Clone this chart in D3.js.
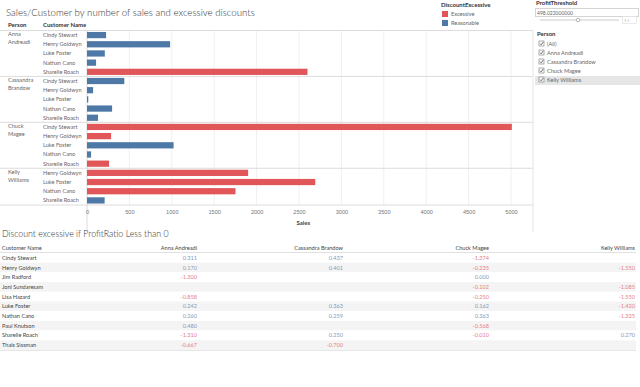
<!DOCTYPE html>
<html lang="en">
<head>
    <meta charset="UTF-8">
    <title>Sales/Customer - Discounts</title>
    <script src="https://d3js.org/d3.v7.min.js"></script>
    <style>
        body { margin: 0; background: #fff; }
        svg { font-family: Lato, "Open Sans", sans-serif; }
        .title { font-size: 9.7px; fill: #333; font-weight: 300; }
        .hdr { font-size: 6px; fill: #333; font-weight: bold; }
        .lbl { font-size: 5.6px; fill: #666; }
        .tick text { font-size: 5.6px; fill: #777; }
    </style>
</head>
<body>
<svg id="canvas" width="640" height="387"></svg>
<script>
    // bar chart data
    let persons = ["Anna Andreadi", "Cassandra Brandow", "Chuck Magee", "Kelly Williams"]
    let barPerson = ["Anna Andreadi","Anna Andreadi","Anna Andreadi","Anna Andreadi","Anna Andreadi",
        "Cassandra Brandow","Cassandra Brandow","Cassandra Brandow","Cassandra Brandow","Cassandra Brandow",
        "Chuck Magee","Chuck Magee","Chuck Magee","Chuck Magee","Chuck Magee",
        "Kelly Williams","Kelly Williams","Kelly Williams","Kelly Williams"]
    let barCustomer = ["Cindy Stewart","Henry Goldwyn","Luke Foster","Nathan Cano","Sharelle Roach",
        "Cindy Stewart","Henry Goldwyn","Luke Foster","Nathan Cano","Sharelle Roach",
        "Cindy Stewart","Henry Goldwyn","Luke Foster","Nathan Cano","Sharelle Roach",
        "Henry Goldwyn","Luke Foster","Nathan Cano","Sharelle Roach"]
    let barSales = [225, 980, 210, 107, 2600,
        440, 72, 15, 296, 130,
        5010, 284, 1021, 48, 260,
        1900, 2692, 1751, 208]
    let barStatus = ["Reasonable","Reasonable","Reasonable","Reasonable","Excessive",
        "Reasonable","Reasonable","Reasonable","Reasonable","Reasonable",
        "Excessive","Excessive","Reasonable","Reasonable","Excessive",
        "Excessive","Excessive","Excessive","Reasonable"]
    let salesTicks = [0, 500, 1000, 1500, 2000, 2500, 3000, 3500, 4000, 4500, 5000]
    let statusNames = ["Excessive", "Reasonable"]

    // table data
    let tableCustomers = ["Cindy Stewart","Henry Goldwyn","Jim Radford","Joni Sundaresam","Lisa Hazard",
        "Luke Foster","Nathan Cano","Paul Knutson","Sharelle Roach","Thais Sissman"]
    let tableValues = [
        [0.311, 0.437, -1.374, null],
        [0.170, 0.401, -0.235, -1.550],
        [-1.300, null, 0.000, null],
        [null, null, -0.102, -1.085],
        [-0.858, null, -0.250, -1.550],
        [0.242, 0.363, 0.162, -1.420],
        [0.260, 0.259, 0.363, -1.335],
        [0.480, null, -0.568, null],
        [-1.310, 0.250, -0.010, 0.270],
        [-0.667, -0.700, null, null]]

    let filterItems = ["(All)", "Anna Andreadi", "Cassandra Brandow", "Chuck Magee", "Kelly Williams"]

    let red = "#e15759", blue = "#4e79a7"
    let svg = d3.select("#canvas")

    // ---------- bar chart ----------
    svg.append("text").attr("class", "title").attr("x", 6).attr("y", 16)
        .text("Sales/Customer by number of sales and excessive discounts")

    let x = d3.scaleLinear().domain([0, 5000]).range([87, 511])
    let y = d3.scaleBand().domain(d3.range(barSales.length)).range([30.5, 205]).paddingInner(0.32).paddingOuter(0.16)
    let color = d3.scaleOrdinal().domain(statusNames).range([red, blue])
    let step = y.step()
    let yTop = 30.5, yBottom = 205

    // grid
    svg.append("g").selectAll("line").data(salesTicks.slice(1)).join("line")
        .attr("x1", d => x(d)).attr("x2", d => x(d)).attr("y1", yTop).attr("y2", yBottom)
        .attr("stroke", "#f0f0f0").attr("stroke-width", 1)

    svg.append("text").attr("class", "hdr").attr("x", 8).attr("y", 27).text("Person")
    svg.append("text").attr("class", "hdr").attr("x", 43).attr("y", 27).text("Customer Name")

    // group separators
    let firstIdx = persons.map(p => barPerson.indexOf(p))
    svg.append("g").selectAll("line").data(firstIdx).join("line")
        .attr("x1", 0).attr("x2", 533)
        .attr("y1", i => i === 0 ? yTop : y(i) - step * 0.16)
        .attr("y2", i => i === 0 ? yTop : y(i) - step * 0.16)
        .attr("stroke", "#dcdcdc")
    svg.append("line").attr("x1", 0).attr("x2", 533).attr("y1", yBottom).attr("y2", yBottom).attr("stroke", "#dcdcdc")
    svg.append("line").attr("x1", 533).attr("x2", 533).attr("y1", yTop).attr("y2", 232).attr("stroke", "#e4e4e4")
    svg.append("line").attr("x1", x(0)).attr("x2", x(0)).attr("y1", yTop).attr("y2", 232).attr("stroke", "#dcdcdc")

    // person labels
    persons.forEach((p, k) => {
        let t = svg.append("text").attr("class", "lbl").attr("x", 8).attr("y", y(firstIdx[k]) + 4.5)
        p.split(" ").forEach((w, j) => t.append("tspan").attr("x", 8).attr("dy", j ? 7.5 : 0).text(w))
    })

    // customer labels
    svg.append("g").selectAll("text").data(barCustomer).join("text").attr("class", "lbl")
        .attr("x", 43).attr("y", (d, i) => y(i) + y.bandwidth() / 2 + 2).text(d => d)

    // bars
    svg.append("g").selectAll("rect").data(barSales).join("rect")
        .attr("x", x(0)).attr("y", (d, i) => y(i))
        .attr("width", d => x(d) - x(0)).attr("height", y.bandwidth())
        .attr("fill", (d, i) => color(barStatus[i]))

    // axis
    svg.append("g").attr("transform", "translate(0,206)")
        .call(d3.axisBottom(x).tickValues(salesTicks).tickFormat(d3.format("d")).tickSize(0).tickPadding(4))
        .call(g => g.select(".domain").remove())
    svg.append("text").attr("class", "hdr").attr("x", x(2550)).attr("y", 225).attr("text-anchor", "middle")
        .style("fill", "#444").text("Sales")

    // legend
    svg.append("text").attr("class", "hdr").attr("x", 441).attr("y", 7).text("DiscountExcessive")
    let lg = svg.append("g").selectAll("g").data(statusNames).join("g")
        .attr("transform", (d, i) => `translate(442,${11 + i * 9})`)
    lg.append("rect").attr("width", 6).attr("height", 6).attr("fill", d => color(d))
    lg.append("text").attr("class", "lbl").attr("x", 9).attr("y", 5).text(d => d)

    // ---------- filter panel ----------
    svg.append("text").attr("class", "hdr").attr("x", 536).attr("y", 5).text("ProfitThreshold")
    svg.append("rect").attr("x", 535.5).attr("y", 8.5).attr("width", 103).attr("height", 8)
        .attr("fill", "#fff").attr("stroke", "#d4d4d4")
    svg.append("text").attr("class", "lbl").style("font-size", "5px").attr("x", 537).attr("y", 14.5).text("498.022000000")
    svg.append("line").attr("x1", 540).attr("x2", 619).attr("y1", 20).attr("y2", 20).attr("stroke", "#ccc")
    svg.append("circle").attr("cx", 578).attr("cy", 20).attr("r", 1.8).attr("fill", "#fff").attr("stroke", "#888").attr("stroke-width", 0.6)
    svg.append("rect").attr("x", 622.5).attr("y", 16.5).attr("width", 14).attr("height", 7)
        .attr("fill", "#fff").attr("stroke", "#ddd").attr("stroke-width", 0.6)
    svg.append("text").attr("class", "lbl").style("font-size", "5.5px").attr("x", 624.5).attr("y", 22).text("\u2039 \u203a")

    svg.append("text").attr("class", "hdr").attr("x", 537).attr("y", 36).text("Person")
    svg.append("rect").attr("x", 535).attr("y", 76).attr("width", 105).attr("height", 9).attr("fill", "#e6e6e6")
    let fi = svg.append("g").selectAll("g").data(filterItems).join("g")
        .attr("transform", (d, i) => `translate(539,${41 + i * 9})`)
    fi.append("rect").attr("width", 5).attr("height", 5).attr("fill", "#fff").attr("stroke", "#777").attr("stroke-width", 0.6)
    fi.append("path").attr("d", "M1,2.6 L2.2,3.8 L4.2,1").attr("fill", "none").attr("stroke", "#333").attr("stroke-width", 0.7)
    fi.append("text").attr("class", "lbl").attr("x", 8).attr("y", 4.8).text(d => d)

    // ---------- table ----------
    svg.append("text").attr("class", "title").style("font-size", "8.8px").attr("x", 2).attr("y", 237)
        .text("Discount excessive if ProfitRatio Less than 0")
    let colRight = d3.scalePoint().domain(persons).range([197, 635])
    let row = d3.scaleBand().domain(d3.range(tableCustomers.length)).range([253, 350])

    svg.append("g").selectAll("rect").data(tableCustomers).join("rect")
        .attr("x", 0).attr("width", 636).attr("y", (d, i) => row(i)).attr("height", row.bandwidth())
        .attr("fill", (d, i) => i % 2 ? "#f4f4f4" : "#fff")
    svg.append("line").attr("x1", 0).attr("x2", 636).attr("y1", 252.5).attr("y2", 252.5).attr("stroke", "#e0e0e0")
    svg.append("line").attr("x1", 0).attr("x2", 636).attr("y1", 350.5).attr("y2", 350.5).attr("stroke", "#e6e6e6")

    svg.append("text").attr("class", "lbl").style("fill", "#444").attr("x", 2).attr("y", 250).text("Customer Name")
    svg.append("g").selectAll("text").data(persons).join("text").attr("class", "lbl").style("fill", "#444")
        .attr("x", d => colRight(d)).attr("y", 250).attr("text-anchor", "end").text(d => d)

    svg.append("g").selectAll("text").data(tableCustomers).join("text").attr("class", "lbl").style("fill", "#444")
        .attr("x", 2).attr("y", (d, i) => row(i) + row.bandwidth() / 2 + 2).text(d => d)

    let fmt = d3.format(".3f")
    tableValues.forEach((vals, i) => {
        vals.forEach((v, j) => {
            if (v === null) return
            svg.append("text").attr("class", "lbl")
                .attr("x", colRight(persons[j])).attr("y", row(i) + row.bandwidth() / 2 + 2)
                .attr("text-anchor", "end")
                .style("fill", v < 0 ? "#e8808a" : "#7f9cc0")
                .text(fmt(v).replace("\u2212", "-"))
        })
    })
</script>
</body>
</html>
